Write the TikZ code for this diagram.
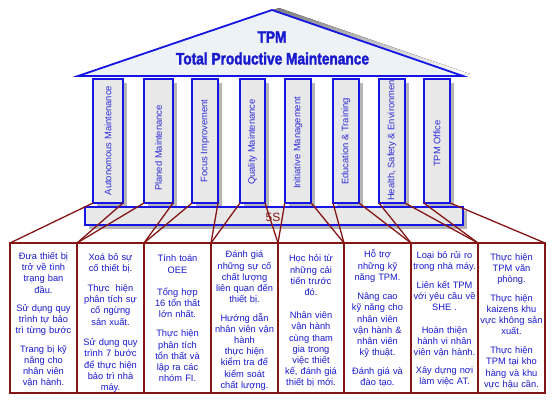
\documentclass[tikz,border=0pt]{standalone}
\usepackage{fontspec}
\setmainfont{Liberation Sans}
\newfontfamily\titlefont[FakeStretch=0.83,FakeBold=2]{Liberation Sans Bold}
\usetikzlibrary{shadows}
\definecolor{pblue}{RGB}{22,22,228}
\definecolor{tblue}{RGB}{25,25,205}
\definecolor{cblue}{RGB}{45,45,215}
\definecolor{dred}{RGB}{132,22,22}
\definecolor{shade}{RGB}{182,182,182}
\definecolor{marble}{RGB}{232,232,232}
\definecolor{roofc}{RGB}{237,242,247}
\begin{document}
\begin{tikzpicture}[x=1bp,y=-1bp,
  colbox/.style={draw=pblue, line width=1.8bp, fill=marble, minimum height=124bp, inner sep=0, outer sep=0, anchor=north,
    drop shadow={shadow xshift=4bp, shadow yshift=-4bp, fill=shade, opacity=1}},
  coltext/.style={rotate=90, text=cblue, font=\fontsize{9.4bp}{11bp}\selectfont, inner sep=0},
  infobox/.style={draw=dred, line width=1.3bp, minimum height=150bp, inner sep=0, outer sep=0, anchor=north west},
  infotext/.style={text=tblue, font=\fontsize{9.3bp}{11.2bp}\selectfont, align=center, text width=72bp, inner sep=0, anchor=base},
  link/.style={draw=dred, line width=1.3bp},
  titletext/.style={text=tblue, font=\titlefont\fontsize{16.5bp}{18bp}\selectfont, inner sep=0}]
\fill[white] (0,0) rectangle (557,405);
\useasboundingbox (0,0) rectangle (557,405);
% roof
\coordinate (rl) at (78,76);
\coordinate (ra) at (272,10);
\coordinate (rr) at (463,76);
\fill[shade] (85,74) -- (279,8) -- (470,74) -- cycle;
\filldraw[fill=roofc, draw=pblue, line width=1.8bp] (rl) -- (ra) -- (rr) -- cycle;
\node[titletext] (tpm) at (272,37) {TPM};
\node[titletext] (tpmfull) at (272.5,58.5) {Total Productive Maintenance};
% columns
\node[colbox, minimum width=30bp] (c1) at (108,79) {};
\node[colbox, minimum width=29bp] (c2) at (158.5,79) {};
\node[colbox, minimum width=26bp] (c3) at (205,79) {};
\node[colbox, minimum width=25bp] (c4) at (252.5,79) {};
\node[colbox, minimum width=26.5bp] (c5) at (298,79) {};
\node[colbox, minimum width=26bp] (c6) at (346,79) {};
\node[colbox, minimum width=26bp] (c7) at (392,79) {};
\node[colbox, minimum width=26.5bp] (c8) at (437,79) {};
\node[coltext] (t1) at (108,140.5) {Autonomous Maintenance};
\node[coltext] (t2) at (158.5,148) {Planed Maintenance};
\node[coltext] (t3) at (205,141) {Focus Improvement};
\node[coltext] (t4) at (252.5,142) {Quality Maintenance};
\node[coltext] (t5) at (298,143) {Initiative Management};
\node[coltext] (t6) at (346,141.5) {Education \& Training};
\node[coltext, anchor=west] (t7) at (392,201) {Health, Safety \& Environmen};
\node[coltext] (t8) at (437,143.5) {TPM Office};
% base
\node[draw=pblue, line width=1.8bp, fill=marble, minimum width=378bp, minimum height=18bp, inner sep=0, outer sep=0,
  drop shadow={shadow xshift=4bp, shadow yshift=-4bp, fill=shade, opacity=1}] (base) at (274,216) {};
% boxes
\node[infobox, minimum width=67bp] (b1) at (10,243) {};
\node[infobox, minimum width=67bp] (b2) at (77,243) {};
\node[infobox, minimum width=67bp] (b3) at (144,243) {};
\node[infobox, minimum width=67bp] (b4) at (211,243) {};
\node[infobox, minimum width=66bp] (b5) at (278,243) {};
\node[infobox, minimum width=67bp] (b6) at (344,243) {};
\node[infobox, minimum width=67bp] (b7) at (411,243) {};
\node[infobox, minimum width=67bp] (b8) at (478,243) {};
% connectors
\foreach \i in {1,...,8}{
  \draw[link] (c\i.south west) -- (b\i.north west);
  \draw[link] (c\i.south east) -- (b\i.north east);
}
\node[text=dred, font=\fontsize{12bp}{14bp}\selectfont, inner sep=0] (s5) at (273,217) {5S};
% box texts
\node[infotext] (p1) at (43.5,259.5) {Đưa thiết bị\\trở về tình\\trạng ban\\đầu.\\[7.2bp]Sử dụng quy\\trình tự bảo\\trì từng bước\\[7.1bp]Trang bị kỹ\\năng cho\\nhân viên\\vận hành.};
\node[infotext] (p2) at (110.5,260.2) {Xoá bỏ sự\\cố thiết bị.\\[8.8bp]Thực\ \ hiện\\phân tích sự\\cố ngừng\\sản xuất.\\[9.5bp]Sử dụng quy\\trình 7 bước\\để thực hiện\\bảo trì nhà\\máy.};
\node[infotext] (p3) at (177.5,261.8) {Tính toán\\OEE\\[11.2bp]Tổng hợp\\16 tổn thất\\lớn nhất.\\[7.8bp]Thực hiện\\phân tích\\tổn thất và\\lập ra các\\nhóm FI.};
\node[infotext] (p4) at (244.5,257.8) {Đánh giá\\những sự cố\\chất lượng\\liên quan đến\\thiết bị.\\[7.2bp]Hướng dẫn\\nhân viên vận\\hành\\thực hiện\\kiểm tra để\\kiểm soát\\chất lượng.};
\node[infotext] (p5) at (311,261.8) {Học hỏi từ\\những cải\\tiến trước\\đó.\\[12bp]Nhân viên\\vận hành\\cùng tham\\gia trong\\việc thiết\\kế, đánh giá\\thiết bị mới.};
\node[infotext] (p6) at (377.5,257.8) {Hỗ trợ\\những kỹ\\năng TPM.\\[8.2bp]Nâng cao\\kỹ năng cho\\nhân viên\\vận hành \&\\nhân viên\\kỹ thuật.\\[7.8bp]Đánh giá và\\đào tạo.};
\node[infotext] (p7) at (444.5,258.5) {Loại bỏ rủi ro\\trong nhà máy.\\[7.1bp]Liên kết TPM\\với yêu cầu về\\SHE .\\[11.5bp]Hoàn thiện\\hành vi nhân\\viên vận hành.\\[6.8bp]Xây dựng nơi\\làm việc AT.};
\node[infotext] (p8) at (511.5,260.2) {Thực hiện\\TPM văn\\phòng.\\[7.2bp]Thực hiện\\kaizens khu\\vực không sản\\xuất.\\[7.8bp]Thực hiện\\TPM tại kho\\hàng và khu\\vực hậu cần.};
\end{tikzpicture}
\end{document}
